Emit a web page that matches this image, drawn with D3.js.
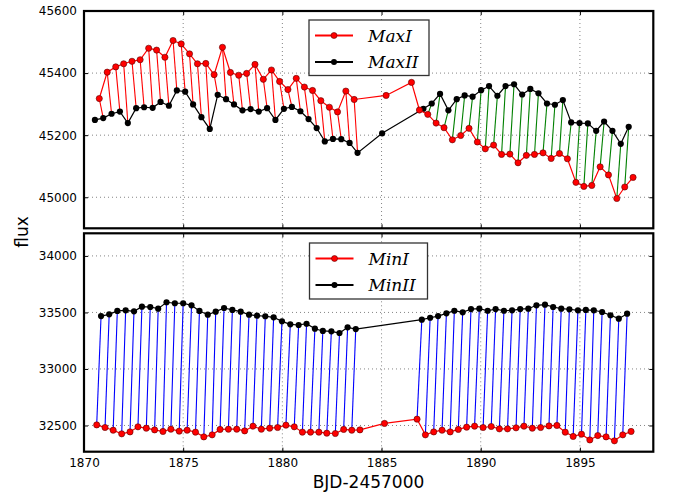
<!DOCTYPE html>
<html>
<head>
<meta charset="utf-8">
<script src="https://cdn.jsdelivr.net/npm/d3@7/dist/d3.min.js"></script>
<style>
body { margin: 0; background: #fff; }
svg { display: block; }
.axis text { font-family: "DejaVu Sans", sans-serif; font-size: 12px; fill: #000; }
.axis line { stroke: #000; stroke-width: 1; }
.axis path { display: none; }
.grid line { stroke: #666; stroke-width: 0.8; stroke-dasharray: 1,3; }
.legend text { font-family: "DejaVu Serif", serif; font-style: italic; font-size: 17px; fill: #000; }
</style>
</head>
<body>
<svg width="673" height="493"></svg>
<script>
// top panel: maxima
var maxI_t = [1870.77,1871.17,1871.60,1872.00,1872.42,1872.83,1873.26,1873.66,1874.08,1874.49,1874.90,1875.32,1875.72,1876.14,1876.56,1876.98,1877.38,1877.80,1878.20,1878.62,1879.04,1879.45,1879.86,1880.28,1880.70,1881.11,1881.52,1881.94,1882.37,1882.78,1883.20,1883.62,1885.23,1886.51,1886.91,1887.33,1887.75,1888.15,1888.57,1888.99,1889.41,1889.83,1890.23,1890.65,1891.05,1891.47,1891.88,1892.30,1892.71,1893.14,1893.55,1893.97,1894.37,1894.80,1895.20,1895.60,1896.02,1896.44,1896.86,1897.26,1897.68];
var maxI = [45318,45403,45420,45430,45438,45443,45480,45474,45451,45505,45494,45462,45430,45431,45395,45483,45402,45393,45399,45428,45380,45410,45373,45347,45383,45355,45344,45311,45290,45275,45342,45315,45328,45370,45281,45267,45239,45224,45185,45199,45222,45178,45156,45168,45138,45139,45111,45135,45138,45143,45125,45141,45124,45048,45035,45038,45098,45072,44996,45033,45064];
var maxII_t = [1870.55,1870.97,1871.39,1871.81,1872.21,1872.63,1873.03,1873.46,1873.86,1874.28,1874.68,1875.10,1875.50,1875.92,1876.34,1876.74,1877.16,1877.56,1877.99,1878.40,1878.81,1879.23,1879.65,1880.08,1880.48,1880.91,1881.32,1881.73,1882.14,1882.55,1882.97,1883.39,1883.79,1885.03,1887.11,1887.53,1887.95,1888.37,1888.79,1889.19,1889.59,1890.02,1890.42,1890.84,1891.25,1891.68,1892.09,1892.50,1892.91,1893.34,1893.74,1894.14,1894.56,1894.98,1895.40,1895.82,1896.22,1896.64,1897.06,1897.46];
var maxII = [45249,45255,45269,45276,45239,45287,45290,45288,45307,45295,45344,45340,45299,45258,45220,45330,45316,45299,45280,45284,45276,45287,45249,45285,45291,45277,45252,45223,45180,45188,45187,45175,45143,45206,45285,45302,45333,45280,45316,45328,45324,45345,45358,45327,45358,45364,45331,45349,45335,45302,45298,45313,45241,45239,45238,45214,45244,45214,45172,45227];

// bottom panel: minima
var minI_t = [1870.64,1871.06,1871.47,1871.90,1872.32,1872.72,1873.14,1873.56,1873.98,1874.38,1874.80,1875.20,1875.62,1876.04,1876.46,1876.86,1877.28,1877.70,1878.10,1878.52,1878.94,1879.36,1879.76,1880.18,1880.60,1881.01,1881.42,1881.84,1882.24,1882.67,1883.09,1883.50,1883.91,1885.15,1886.79,1887.21,1887.63,1888.05,1888.46,1888.87,1889.29,1889.69,1890.12,1890.53,1890.94,1891.35,1891.78,1892.18,1892.60,1893.02,1893.44,1893.84,1894.26,1894.66,1895.08,1895.50,1895.90,1896.32,1896.74,1897.16,1897.58];
var minI = [32505,32482,32458,32426,32443,32488,32476,32461,32447,32467,32450,32458,32441,32399,32417,32465,32467,32467,32452,32494,32467,32476,32482,32503,32488,32441,32441,32441,32432,32429,32465,32458,32461,32518,32556,32417,32443,32458,32443,32465,32485,32494,32482,32491,32470,32470,32479,32494,32476,32482,32496,32500,32441,32403,32423,32372,32411,32399,32364,32417,32447];
var minII_t = [1870.86,1871.27,1871.68,1872.10,1872.52,1872.92,1873.34,1873.74,1874.16,1874.58,1875.00,1875.42,1875.82,1876.24,1876.64,1877.06,1877.48,1877.90,1878.32,1878.72,1879.14,1879.56,1879.98,1880.40,1880.82,1881.22,1881.64,1882.04,1882.47,1882.88,1883.29,1883.70,1887.03,1887.45,1887.85,1888.27,1888.67,1889.09,1889.51,1889.93,1890.35,1890.75,1891.17,1891.58,1891.99,1892.40,1892.81,1893.24,1893.65,1894.06,1894.47,1894.90,1895.30,1895.70,1896.12,1896.54,1896.96,1897.38];
var minII = [33468,33483,33513,33519,33510,33551,33548,33533,33590,33581,33581,33563,33513,33480,33507,33539,33522,33507,33480,33471,33466,33457,33421,33395,33389,33400,33356,33336,33333,33318,33368,33353,33436,33453,33468,33492,33515,33501,33530,33533,33515,33530,33515,33519,33530,33533,33563,33569,33548,33533,33528,33519,33522,33519,33504,33475,33445,33489];

var xTicks = [1870, 1875, 1880, 1885, 1890, 1895];
var yTicksTop = [45000, 45200, 45400, 45600];
var yTicksBot = [32500, 33000, 33500, 34000];
var legendTop = ["MaxI", "MaxII"];
var legendBot = ["MinI", "MinII"];

drawChart();

function drawChart() {
    var svg = d3.select("svg");
    svg.selectAll("*").remove();

    var x = d3.scaleLinear().domain([1870, 1898.7]).range([84, 653.3]);
    var yTop = d3.scaleLinear().domain([44900, 45600]).range([228.3, 11]);
    var yBot = d3.scaleLinear().domain([32268, 34200]).range([451.7, 233.3]);

    drawPanel(svg, x, yTop, yTicksTop, false,
        maxI_t, maxI, maxII_t, maxII,
        function(a, b) { return a > b ? "#ff0000" : "#008000"; },
        legendTop, {x: 309, y: 20, w: 120, h: 55.5});

    drawPanel(svg, x, yBot, yTicksBot, true,
        minI_t, minI, minII_t, minII,
        function() { return "#0000ff"; },
        legendBot, {x: 309.5, y: 243, w: 118, h: 56});

    // axis titles
    svg.append("text")
        .attr("x", 368.5).attr("y", 488)
        .attr("text-anchor", "middle")
        .style("font-family", "DejaVu Sans, sans-serif")
        .style("font-size", "17px")
        .text("BJD-2457000");

    svg.append("text")
        .attr("transform", "translate(28,232) rotate(-90)")
        .attr("text-anchor", "middle")
        .style("font-family", "DejaVu Sans, sans-serif")
        .style("font-size", "17px")
        .text("flux");
}

function drawPanel(svg, x, y, yTicks, showX, t1, v1, t2, v2, segColor, names, lg) {
    var x0 = x.range()[0], x1 = x.range()[1];
    var yb = y.range()[0], yt = y.range()[1];
    var g = svg.append("g");

    // grid
    var grid = g.append("g").attr("class", "grid");
    grid.selectAll(".gx").data(xTicks.slice(1)).enter().append("line")
        .attr("x1", function(d) { return x(d); }).attr("x2", function(d) { return x(d); })
        .attr("y1", yt).attr("y2", yb);
    grid.selectAll(".gy").data(yTicks.filter(function(d) { return y(d) > yt + 1; })).enter().append("line")
        .attr("x1", x0).attr("x2", x1)
        .attr("y1", function(d) { return y(d); }).attr("y2", function(d) { return y(d); });

    // pair each point of series 1 with the next point of series 2 (half a cycle later)
    var pairs = [];
    t1.forEach(function(t, i) {
        for (var j = 0; j < t2.length; j++) {
            if (t2[j] > t && t2[j] - t < 0.3) {
                pairs.push({ta: t, va: v1[i], tb: t2[j], vb: v2[j]});
                break;
            }
        }
    });
    g.selectAll(".seg").data(pairs).enter().append("line")
        .attr("x1", function(d) { return x(d.ta); })
        .attr("y1", function(d) { return y(d.va); })
        .attr("x2", function(d) { return x(d.tb); })
        .attr("y2", function(d) { return y(d.vb); })
        .attr("stroke", function(d) { return segColor(d.va, d.vb); })
        .attr("stroke-width", 1.1);

    var line = d3.line()
        .x(function(d) { return x(d[0]); })
        .y(function(d) { return y(d[1]); });

    var s1 = d3.zip(t1, v1), s2 = d3.zip(t2, v2);

    g.append("path").datum(s2).attr("d", line)
        .attr("fill", "none").attr("stroke", "#000").attr("stroke-width", 1.2);
    g.selectAll(".m2").data(s2).enter().append("circle")
        .attr("cx", function(d) { return x(d[0]); })
        .attr("cy", function(d) { return y(d[1]); })
        .attr("r", 3.1).attr("fill", "#000");

    g.append("path").datum(s1).attr("d", line)
        .attr("fill", "none").attr("stroke", "#ff0000").attr("stroke-width", 1.2);
    g.selectAll(".m1").data(s1).enter().append("circle")
        .attr("cx", function(d) { return x(d[0]); })
        .attr("cy", function(d) { return y(d[1]); })
        .attr("r", 3.1).attr("fill", "#ff0000")
        .attr("stroke", "#5a0000").attr("stroke-width", 0.6);

    // axes, ticks inward
    g.append("g").attr("class", "axis")
        .attr("transform", "translate(" + x0 + ",0)")
        .call(d3.axisLeft(y).tickValues(yTicks).tickSize(-4).tickPadding(7).tickFormat(d3.format("d")));
    g.append("g").attr("class", "axis")
        .attr("transform", "translate(" + x1 + ",0)")
        .call(d3.axisRight(y).tickValues(yTicks).tickSize(-4).tickFormat(""));
    g.append("g").attr("class", "axis")
        .attr("transform", "translate(0," + yt + ")")
        .call(d3.axisTop(x).tickValues(xTicks).tickSize(-4).tickFormat(""));
    g.append("g").attr("class", "axis")
        .attr("transform", "translate(0," + yb + ")")
        .call(d3.axisBottom(x).tickValues(xTicks).tickSize(-4).tickPadding(7)
            .tickFormat(showX ? d3.format("d") : ""));

    // frame
    g.append("rect")
        .attr("x", x0).attr("y", yt)
        .attr("width", x1 - x0).attr("height", yb - yt)
        .attr("fill", "none").attr("stroke", "#000").attr("stroke-width", 2.2);

    // legend
    var lgd = g.append("g").attr("class", "legend");
    lgd.append("rect")
        .attr("x", lg.x).attr("y", lg.y).attr("width", lg.w).attr("height", lg.h)
        .attr("fill", "#fff").attr("stroke", "#333").attr("stroke-width", 1.3);
    var colors = ["#ff0000", "#000"];
    var rows = lgd.selectAll(".row").data(names).enter().append("g")
        .attr("transform", function(d, i) { return "translate(" + lg.x + "," + (lg.y + 15.5 + i * 26.5) + ")"; });
    rows.append("line")
        .attr("x1", 6).attr("x2", 44).attr("y1", 0).attr("y2", 0)
        .attr("stroke", function(d, i) { return colors[i]; }).attr("stroke-width", 1.8);
    rows.append("circle")
        .attr("cx", 25).attr("cy", 0).attr("r", 3)
        .attr("fill", function(d, i) { return colors[i]; })
        .attr("stroke", function(d, i) { return i == 0 ? "#5a0000" : "none"; })
        .attr("stroke-width", 0.6);
    rows.append("text")
        .attr("x", 59).attr("y", 6)
        .text(function(d) { return d; });
}
</script>
</body>
</html>
